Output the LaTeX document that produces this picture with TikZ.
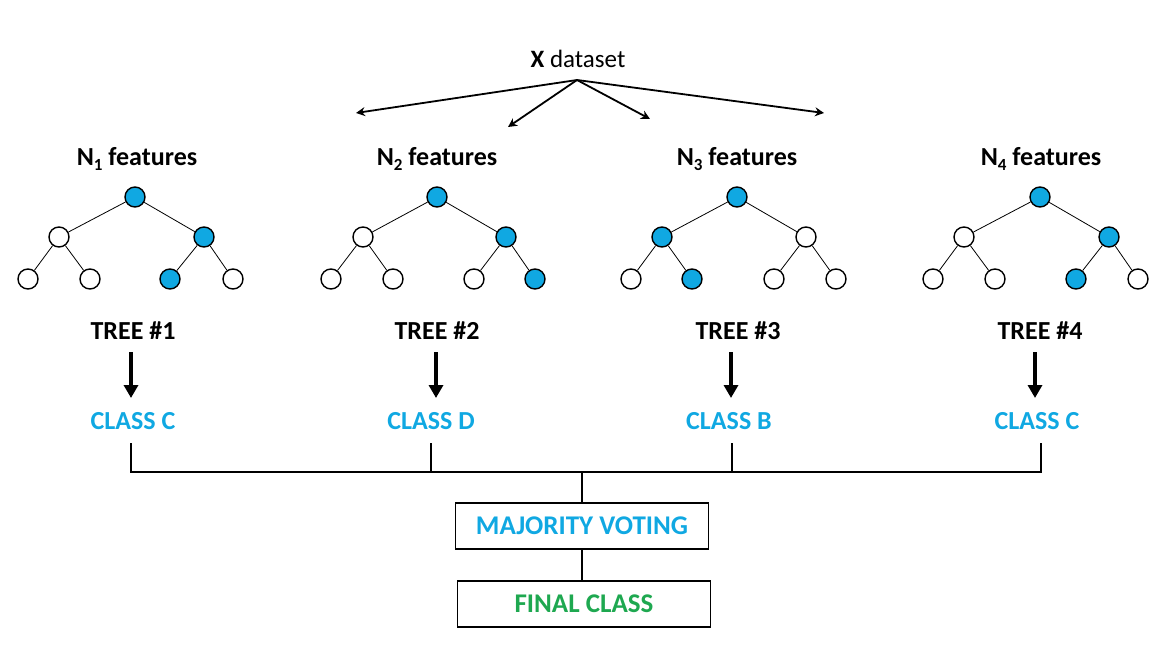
\documentclass[tikz,border=0pt]{standalone}
\usepackage{fontspec}
\setmainfont{Carlito}
\usetikzlibrary{arrows.meta}
\definecolor{cblue}{RGB}{16,168,226}
\definecolor{cgreen}{RGB}{30,168,80}
\newcommand\subn[1]{\raisebox{-0.45ex}{\fontsize{17}{17}\selectfont #1}}
\tikzset{
  tn/.style={circle, draw=black, line width=1.4pt, minimum size=20pt, inner sep=0pt},
  on/.style={tn, fill=cblue},
  off/.style={tn, fill=white},
  edge/.style={line width=0.8pt},
  feat/.style={font=\fontsize{26}{26}\selectfont\bfseries, inner sep=0pt},
  treelab/.style={font=\fontsize{26}{26}\selectfont\bfseries, inner sep=0pt},
  classlab/.style={font=\fontsize{26}{26}\selectfont\bfseries, text=cblue, inner sep=0pt},
  downarrow/.style={line width=3.5pt, -{Triangle[width=14pt,length=13pt]}},
  splitarrow/.style={line width=1.8pt, -{Stealth[width=9pt,length=9pt]}},
  bar/.style={line width=2.6pt},
  boxnode/.style={draw=black, line width=1.8pt, minimum width=253pt, minimum height=46pt, inner sep=0pt, font=\fontsize{27}{27}\selectfont\bfseries}
}
\begin{document}
\begin{tikzpicture}[x=1pt,y=-1pt]
\useasboundingbox (0,0) rectangle (1170,664);
% dataset
\node[font=\fontsize{25}{25}\selectfont, inner sep=0pt] (ds) at (578,59) {\textbf{X} dataset};
\coordinate (dsp) at (577,80);
\coordinate (d1) at (356,113);
\coordinate (d2) at (508,127);
\coordinate (d3) at (650,119);
\coordinate (d4) at (824,113);
\draw[splitarrow] (dsp) -- (d1);
\draw[splitarrow] (dsp) -- (d2);
\draw[splitarrow] (dsp) -- (d3);
\draw[splitarrow] (dsp) -- (d4);
% feature labels
\node[feat] (f1) at (137,159) {N\subn{1} features};
\node[feat] (f2) at (437,159) {N\subn{2} features};
\node[feat] (f3) at (737,159) {N\subn{3} features};
\node[feat] (f4) at (1041,159) {N\subn{4} features};
% tree 1
\node[on]  (t1r) at (135,197) {};
\node[off] (t1a) at (59,237) {};
\node[on]  (t1b) at (204,237) {};
\node[off] (t1a1) at (28,279) {};
\node[off] (t1a2) at (90,279) {};
\node[on]  (t1b1) at (170,279) {};
\node[off] (t1b2) at (233,279) {};
% tree 2
\node[on]  (t2r) at (437,197) {};
\node[off] (t2a) at (363,237) {};
\node[on]  (t2b) at (506,237) {};
\node[off] (t2a1) at (331,279) {};
\node[off] (t2a2) at (393,279) {};
\node[off] (t2b1) at (474,279) {};
\node[on]  (t2b2) at (535,279) {};
% tree 3
\node[on]  (t3r) at (737,197) {};
\node[on]  (t3a) at (662,237) {};
\node[off] (t3b) at (806,237) {};
\node[off] (t3a1) at (631,279) {};
\node[on]  (t3a2) at (692,279) {};
\node[off] (t3b1) at (774,279) {};
\node[off] (t3b2) at (836,279) {};
% tree 4
\node[on]  (t4r) at (1040,197) {};
\node[off] (t4a) at (964,237) {};
\node[on]  (t4b) at (1109,237) {};
\node[off] (t4a1) at (933,279) {};
\node[off] (t4a2) at (995,279) {};
\node[on]  (t4b1) at (1076,279) {};
\node[off] (t4b2) at (1138,279) {};
\foreach \t in {1,2,3,4}{
  \draw[edge] (t\t r) -- (t\t a);
  \draw[edge] (t\t r) -- (t\t b);
  \draw[edge] (t\t a) -- (t\t a1);
  \draw[edge] (t\t a) -- (t\t a2);
  \draw[edge] (t\t b) -- (t\t b1);
  \draw[edge] (t\t b) -- (t\t b2);
}
% tree labels
\node[treelab] (l1) at (133,331) {TREE \#1};
\node[treelab] (l2) at (437,331) {TREE \#2};
\node[treelab] (l3) at (738,331) {TREE \#3};
\node[treelab] (l4) at (1040,331) {TREE \#4};
% class labels
\node[classlab] (c1) at (133,421) {CLASS C};
\node[classlab] (c2) at (431,421) {CLASS D};
\node[classlab] (c3) at (729,421) {CLASS B};
\node[classlab] (c4) at (1037,421) {CLASS C};
% down arrows
\coordinate (a1s) at (131,352); \coordinate (a1e) at (131,398);
\coordinate (a2s) at (436,352); \coordinate (a2e) at (436,398);
\coordinate (a3s) at (731,352); \coordinate (a3e) at (731,398);
\coordinate (a4s) at (1035,352); \coordinate (a4e) at (1035,398);
\draw[downarrow] (a1s) -- (a1e);
\draw[downarrow] (a2s) -- (a2e);
\draw[downarrow] (a3s) -- (a3e);
\draw[downarrow] (a4s) -- (a4e);
% bracket
\coordinate (k1) at (131,443); \coordinate (j1) at (131,472);
\coordinate (k2) at (431,443); \coordinate (j2) at (431,472);
\coordinate (k3) at (732,443); \coordinate (j3) at (732,472);
\coordinate (k4) at (1041,443); \coordinate (j4) at (1041,472);
\coordinate (jm) at (582,472);
\draw[bar] (k1) -- (j1) -- (j4) -- (k4);
\draw[bar] (k2) -- (j2);
\draw[bar] (k3) -- (j3);
% boxes
\node[boxnode, text=cblue] (mv) at (582,526) {MAJORITY VOTING};
\node[boxnode, text=cgreen] (fc) at (584,604) {FINAL CLASS};
\draw[bar] (jm) -- (mv.north);
\draw[bar] (mv.south -| jm) -- (fc.north -| jm);
\end{tikzpicture}
\end{document}
